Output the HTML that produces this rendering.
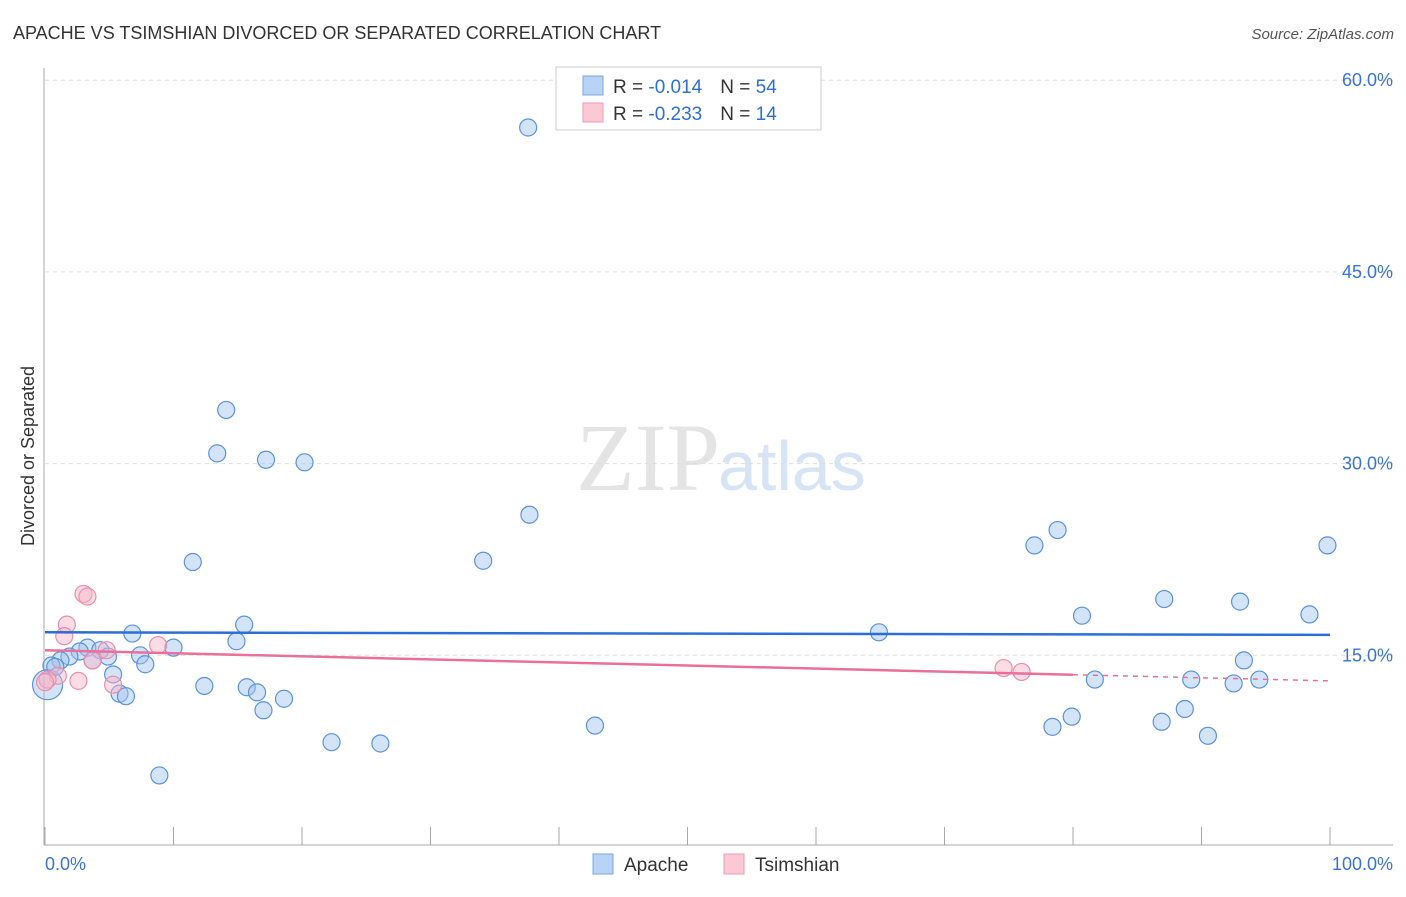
<!DOCTYPE html>
<html><head><meta charset="utf-8"><style>
body{margin:0;background:#fff;font-family:"Liberation Sans",sans-serif;}
</style></head><body>
<svg width="1406" height="892" xmlns="http://www.w3.org/2000/svg" font-family="Liberation Sans, sans-serif">
<text x="13" y="39" font-size="18" fill="#333">APACHE VS TSIMSHIAN DIVORCED OR SEPARATED CORRELATION CHART</text>
<text x="1394" y="39" font-size="15" fill="#555" font-style="italic" text-anchor="end">Source: ZipAtlas.com</text>
<text x="720" y="490" font-size="96" fill="#e4e4e4" text-anchor="end" font-family="Liberation Serif, serif">ZIP</text>
<text x="718" y="490" font-size="70" fill="#d6e4f5">atlas</text>
<g id="grid"></g>
<line x1="44" y1="68" x2="44" y2="845" stroke="#aaa"/>
<line x1="44" y1="845" x2="1393" y2="845" stroke="#aaa"/>
<g id="xticks"></g>
<text x="45" y="870" font-size="18" fill="#3a72d8">0.0%</text>
<text x="1393" y="870" font-size="18" fill="#3a72d8" text-anchor="end">100.0%</text>
<text transform="translate(34,456) rotate(-90)" font-size="18" fill="#333" text-anchor="middle">Divorced or Separated</text>
<g id="pts"></g>
<g id="lines"></g>
<g>
<rect x="556" y="67" width="265" height="63" fill="#fff" stroke="#ccc"/>
<rect x="583" y="76" width="20" height="19" fill="#b8d3f5" stroke="#7aa7e0"/>
<rect x="583" y="103" width="20" height="19" fill="#fbc9d6" stroke="#ee9ab2"/>
<text x="613" y="93" font-size="19" fill="#333">R = <tspan fill="#2e6fd6">-0.014</tspan><tspan dx="18">N = </tspan><tspan fill="#2e6fd6">54</tspan></text>
<text x="613" y="120" font-size="19" fill="#333">R = <tspan fill="#2e6fd6">-0.233</tspan><tspan dx="18">N = </tspan><tspan fill="#2e6fd6"> 14</tspan></text>
</g>
<g>
<rect x="593" y="854" width="20" height="20" fill="#b8d3f5" stroke="#7aa7e0"/>
<text x="624" y="871" font-size="19" fill="#333">Apache</text>
<rect x="724" y="854" width="20" height="20" fill="#fbc9d6" stroke="#ee9ab2"/>
<text x="755" y="871" font-size="19" fill="#333">Tsimshian</text>
</g>
</svg>
<script>
const yTicks=[15,30,45,60];
const xTickVals=[0,10,20,30,40,50,60,70,80,90,100];
const apacheX=[37.6,14.1,13.4,17.2,20.2,37.7,11.5,34.1,77.0,78.8,99.8,87.1,93.0,80.7,98.4,15.5,6.8,14.9,10.0,64.9,7.4,7.8,5.3,3.3,4.3,2.7,1.9,1.2,0.5,0.2,4.9,3.7,93.3,81.7,89.2,92.5,94.5,12.4,15.7,16.5,18.6,5.8,6.3,17.0,79.9,78.4,86.9,88.7,42.8,90.5,22.3,26.1,8.9,0.8];
const apacheY=[56.3,34.2,30.8,30.3,30.1,26.0,22.3,22.4,23.6,24.8,23.6,19.4,19.2,18.1,18.2,17.4,16.7,16.1,15.6,16.8,15.0,14.3,13.5,15.6,15.4,15.3,14.9,14.6,14.2,12.7,14.9,14.6,14.6,13.1,13.1,12.8,13.1,12.6,12.5,12.1,11.6,12.0,11.8,10.7,10.2,9.4,9.8,10.8,9.5,8.7,8.2,8.1,5.6,14.1];
const tsimX=[3.0,3.3,1.7,1.5,8.8,4.8,3.7,1.0,2.6,5.3,0.2,74.6,76.0,0];
const tsimY=[19.8,19.6,17.4,16.5,15.8,15.4,14.6,13.4,13.0,12.7,13.1,14.0,13.7,12.9];
const apacheTrend=[16.8,16.6];
const tsimTrend=[15.4,13.0];
const tsimSolidEnd=80;
const NS="http://www.w3.org/2000/svg";
const X=v=>45+v*12.85, Y=v=>847-v*12.78;
function mk(tag,attrs,parent){const e=document.createElementNS(NS,tag);for(const k in attrs)e.setAttribute(k,attrs[k]);document.getElementById(parent).appendChild(e);return e;}
yTicks.forEach(t=>{
 const l=mk('line',{x1:45,x2:1393,y1:Y(t),y2:Y(t),stroke:'#ddd','stroke-dasharray':'4,4'},'grid');
 
 
 const tx=mk('text',{x:1393,y:Y(t)+6,'font-size':18,fill:'#3a72d8','text-anchor':'end'},'grid');
 tx.textContent=t.toFixed(1)+'%';
 
 
});
xTickVals.forEach(t=>{
 const l=mk('line',{x1:X(t),x2:X(t),y1:827,y2:845,stroke:'#aaa'},'xticks');
 
 
});
apacheX.forEach((x,i)=>{
 const c=mk('circle',{cx:X(x),cy:Y(apacheY[i]),r:(i==29?15:8.5),fill:'rgba(160,196,240,0.45)',stroke:'#5b93dc','stroke-width':1.2},'pts');
 
 
});
tsimX.forEach((x,i)=>{
 const c=mk('circle',{cx:X(x),cy:Y(tsimY[i]),r:8.5,fill:'rgba(248,180,200,0.45)',stroke:'#ec8eaa','stroke-width':1.2},'pts');
 
 
});
const a=mk('line',{x1:X(0),y1:Y(apacheTrend[0]),x2:X(100),y2:Y(apacheTrend[1]),stroke:'#2b6fd6','stroke-width':2.5},'lines');


const ty=v=>tsimTrend[0]+(tsimTrend[1]-tsimTrend[0])*v/100;
const p=mk('line',{x1:X(0),y1:Y(ty(0)),x2:X(tsimSolidEnd),y2:Y(ty(tsimSolidEnd)),stroke:'#e8709a','stroke-width':2.5},'lines');


const pd=mk('line',{x1:X(tsimSolidEnd),y1:Y(ty(tsimSolidEnd)),x2:X(100),y2:Y(ty(100)),stroke:'#e8709a','stroke-width':1.5,'stroke-dasharray':'5,5'},'lines');


</script>
</body></html>
